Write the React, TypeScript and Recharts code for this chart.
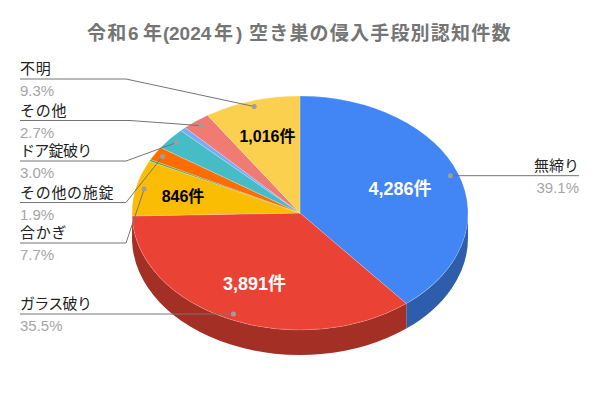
import { Pie, PieChart } from 'recharts';

// clockwise from 12 o'clock; the two thin unnamed slices carry no label in the picture
const categories = ['無締り', 'ガラス破り', '合かぎ', '', 'その他の施錠', 'ドア錠破り', '', 'その他', '不明'];
const values = [4286, 3891, 846, 25, 208, 329, 65, 296, 1016];
const percents = ['39.1%', '35.5%', '7.7%', '', '1.9%', '3.0%', '', '2.7%', '9.3%'];
const colors = ['#4285F4', '#EA4335', '#FBBC04', '#34A853', '#FF6D01', '#46BDC6', '#7BAAF7', '#F07B72', '#FCD04F'];
const titleParts = [
  { text: '令和', x: 87 },
  { text: '6', x: 128 },
  { text: '年', x: 143 },
  { text: '(', x: 163 },
  { text: '2024', x: 169 },
  { text: '年', x: 214 },
  { text: ')', x: 236 },
  { text: '空き巣の侵入手段別認知件数', x: 249 },
];

const W = 600;
const H = 414;
const CX = 300;
const CY = 213;
const RX = 168;
const RY = 117;
const DEPTH = 25;
const RAD = Math.PI / 180;
const FONT = '"Liberation Sans", Arial, "Noto Sans CJK JP", sans-serif';

const sliceData = categories.map((name, i) => ({ name, value: values[i], fill: colors[i] }));

// underline y, elbow x and tracking of the labels on the left, by slice index
const leftLabels: Record<number, { y: number; elbow: number; track: number }> = {
  8: { y: 79, elbow: 126, track: 0.7 },
  7: { y: 120.5, elbow: 130, track: 0.7 },
  5: { y: 161, elbow: 126, track: -0.7 },
  4: { y: 202.5, elbow: 126, track: 0.7 },
  2: { y: 243, elbow: 126, track: 0.7 },
  1: { y: 314, elbow: 126, track: -0.7 },
};

const inside: Record<number, { text: string; x: number; y: number; fill: string; size: number }> = {
  0: { text: '4,286件', x: 400, y: 194.5, fill: '#fff', size: 18 },
  1: { text: '3,891件', x: 254.5, y: 289.5, fill: '#fff', size: 18 },
  2: { text: '846件', x: 183, y: 202, fill: '#000', size: 16 },
  8: { text: '1,016件', x: 267.5, y: 142, fill: '#000', size: 16 },
};

function onEllipse(angle: number, dy = 0) {
  return `${CX + RX * Math.cos(angle * RAD)} ${CY + dy - RY * Math.sin(angle * RAD)}`;
}

function topSlice(props: any) {
  const { startAngle, endAngle, fill } = props;
  const large = startAngle - endAngle > 180 ? 1 : 0;
  const d = `M${CX} ${CY} L${onEllipse(startAngle)} A${RX} ${RY} 0 ${large} 1 ${onEllipse(endAngle)} Z`;
  return <path d={d} fill={fill} stroke="#fff" strokeWidth={0.5} strokeOpacity={0.4} />;
}

function darken(hex: string) {
  const n = parseInt(hex.slice(1), 16);
  const c = (v: number) => Math.round(v * 0.7);
  return `rgb(${c(n >> 16)},${c((n >> 8) & 255)},${c(n & 255)})`;
}

// side wall: only the part of a slice's rim on the front half of the ellipse
function wallSlice(props: any) {
  const { startAngle, endAngle, fill } = props;
  const from = Math.min(startAngle, 0);
  const to = Math.max(endAngle, -180);
  if (from <= to) return <g />;
  const d =
    `M${onEllipse(from)} A${RX} ${RY} 0 0 1 ${onEllipse(to)} ` +
    `L${onEllipse(to, DEPTH)} A${RX} ${RY} 0 0 0 ${onEllipse(from, DEPTH)} Z`;
  return <path d={d} fill={darken(fill)} />;
}

function sliceLabel(props: any) {
  const { index, midAngle } = props;
  const x = CX + RX * 0.95 * Math.cos(midAngle * RAD);
  const y = CY - RY * 0.95 * Math.sin(midAngle * RAD);
  const left = leftLabels[index];
  const t = inside[index];
  if (!categories[index]) return <g key={index} />;
  return (
    <g key={index}>
      {t && (
        <text x={t.x} y={t.y} textAnchor="middle" fontFamily={FONT} fontSize={t.size} fontWeight="bold" fill={t.fill}>
          {t.text}
        </text>
      )}
      {left ? (
        <>
          <polyline points={`20,${left.y} ${left.elbow},${left.y} ${x},${y}`} fill="none" stroke="#757575" strokeWidth={1} />
          <text x={20} y={left.y - 5} fontFamily={FONT} fontSize={15} letterSpacing={left.track} fill="#222">
            {categories[index]}
          </text>
          <text x={20} y={left.y + 17} fontFamily={FONT} fontSize={15} fill="#A6A6A6">
            {percents[index]}
          </text>
        </>
      ) : (
        <>
          <polyline points={`${x},${y} 579,${y}`} fill="none" stroke="#757575" strokeWidth={1} />
          <text x={579} y={y - 5} textAnchor="end" fontFamily={FONT} fontSize={15} fill="#222">
            {categories[index]}
          </text>
          <text x={579} y={y + 17} textAnchor="end" fontFamily={FONT} fontSize={15} fill="#A6A6A6">
            {percents[index]}
          </text>
        </>
      )}
      <circle cx={x} cy={y} r={2.5} fill="#9E9E9E" />
    </g>
  );
}

export default function App() {
  return (
    <div style={{ position: 'absolute', left: 0, top: 0, width: W, height: H, background: '#fff' }}>
      <PieChart width={W} height={H} margin={{ top: 0, right: 0, bottom: 0, left: 0 }}>
        <text y={39.5} fontFamily={FONT} fontSize={19} fontWeight="bold" letterSpacing={1.2} fill="#757575">
          {titleParts.map((p) => (
            <tspan key={p.x} x={p.x} letterSpacing={p.text === '2024' ? 0 : 1.2}>
              {p.text}
            </tspan>
          ))}
        </text>
        <Pie
          data={sliceData}
          dataKey="value"
          cx={CX}
          cy={CY}
          outerRadius={RX}
          startAngle={90}
          endAngle={-270}
          shape={wallSlice}
          legendType="none"
          isAnimationActive={false}
        />
        <Pie
          data={sliceData}
          dataKey="value"
          cx={CX}
          cy={CY}
          outerRadius={RX}
          startAngle={90}
          endAngle={-270}
          shape={topSlice}
          label={sliceLabel}
          labelLine={false}
          legendType="none"
          isAnimationActive={false}
        />
      </PieChart>
    </div>
  );
}
